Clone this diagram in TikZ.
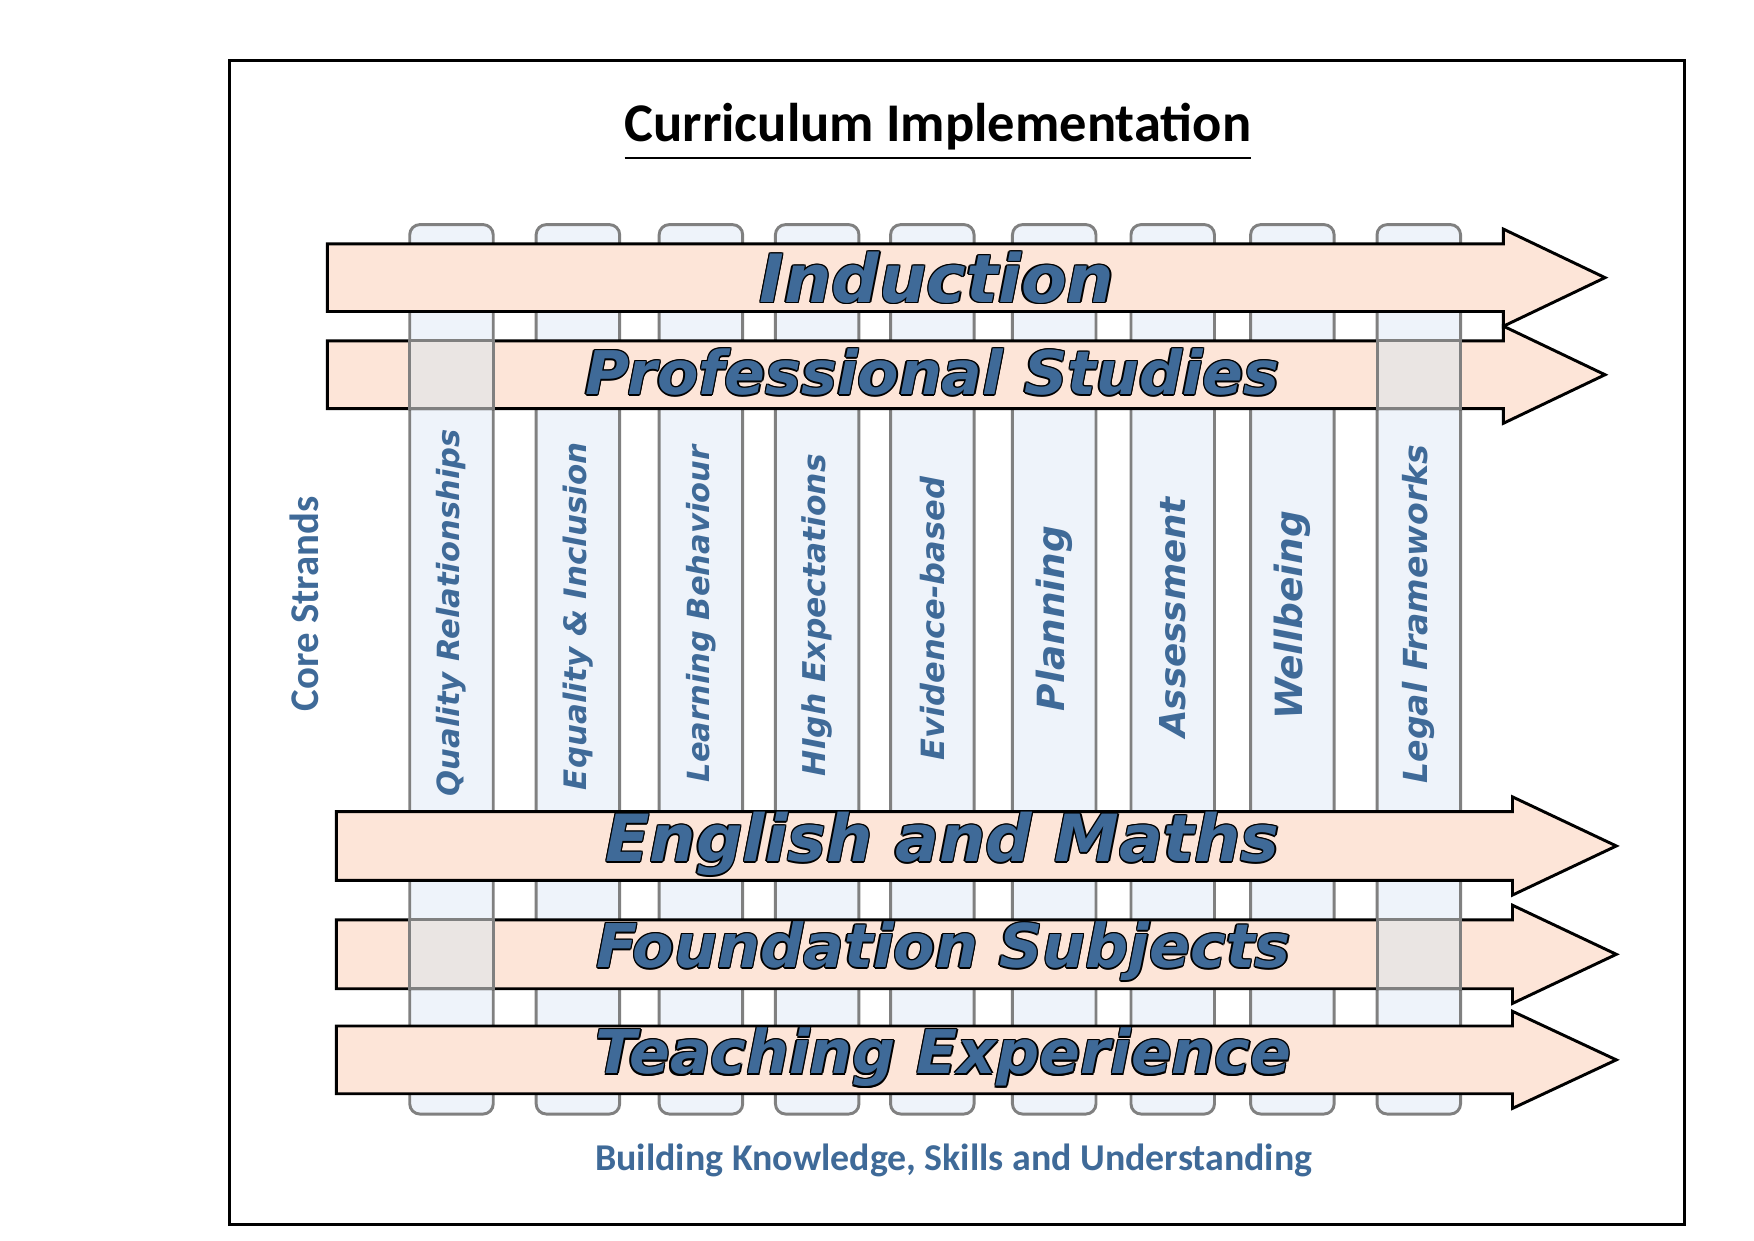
\documentclass[tikz,border=0pt]{standalone}
\usepackage{fontspec}
\setmainfont{Carlito}
\newfontfamily\vfont{DejaVu Sans}
\usepackage{graphicx}
\definecolor{tblue}{HTML}{3F6A98}
\definecolor{arrfill}{HTML}{FDE5D8}
\definecolor{colfill}{HTML}{EEF3FA}
\definecolor{colline}{HTML}{808080}
\definecolor{cellfill}{HTML}{EAE5E3}
\newcommand{\fitw}[2]{\resizebox{#1pt}{!}{#2}}
\newcommand{\otext}[2]{%
 \makebox[0pt]{\color{black}\fitw{#1}{#2}}\hspace*{0pt}}
\begin{document}
\begin{tikzpicture}[x=1pt,y=-1pt,
  colbox/.style={fill=colfill,draw=colline,line width=2.6pt,rounded corners=9pt},
  cellbox/.style={fill=cellfill,draw=colline,line width=2.6pt},
  arr/.style={fill=arrfill,draw=black,line width=2.6pt},
  big/.style={text=tblue,inner sep=0,font=\vfont\bfseries\itshape},
  vert/.style={text=tblue,inner sep=0,rotate=90,font=\vfont\bfseries\itshape},
  plain/.style={text=tblue,inner sep=0}]
\useasboundingbox (0,0) rectangle (1554,1099);
\draw[line width=2.6pt] (203,54) rectangle (1492,1085);
\node[inner sep=0] (title) at (831,117) {\fitw{555}{\bfseries\underline{Curriculum Implementation}}};
% columns
\foreach \l [count=\i] in {363,475,584,687,789,897,1002,1108,1220}
  \draw[colbox] (\l,199) rectangle (\l+74,987);
% arrows
\newcommand{\arrowshape}[5]{% left, right(body end), top, bottom, tip
  \draw[arr] (#1,#3) -- (#2,#3) -- (#2,#3-13) -- (#5,{(#3+#4)/2}) -- (#2,#4+13) -- (#2,#4) -- (#1,#4) -- cycle;}
\arrowshape{290}{1332}{216}{276}{1422}
\arrowshape{290}{1332}{302}{362}{1422}
\arrowshape{298}{1340}{719}{780}{1432}
\arrowshape{298}{1340}{815}{876}{1432}
\arrowshape{298}{1340}{909}{969}{1432}
% overlay cells
\foreach \l in {363,1220}{
  \draw[cellbox] (\l,302) rectangle (\l+74,362);
  \draw[cellbox] (\l,815) rectangle (\l+74,876);}
% arrow labels
\foreach \x/\y/\w/\t/\n in {830/246/314/Induction/ind, 826/330/615/Professional Studies/prof, 835/748/597/English and Maths/eng, 836/843/615/Foundation Subjects/fnd, 836/937/616/Teaching Experience/tch}{
  \foreach \dx/\dy in {-1.2/0,1.2/0,0/-1.2,0/1.2,-0.9/-0.9,0.9/0.9,-0.9/0.9,0.9/-0.9}
    \node[big,text=black] at (\x+\dx,\y+\dy) {\fitw{\w}{\t}};
  \node[big] (\n) at (\x,\y) {\fitw{\w}{\t}};}
% column labels
\foreach \x/\y/\h/\t/\n in {400/543/325/Quality Relationships/c1, 512/546/308/Equality \& Inclusion/c2, 621/544/298/Learning Behaviour/c3, 724/545/285/HIgh Expectations/c4, 826/548/251/Evidence-based/c5, 934/548/164/Planning/c6, 1039/547/213/Assessment/c7, 1145/545/185/Wellbeing/c8, 1257/544/300/Legal Frameworks/c9}
  \node[vert] (\n) at (\x,\y) {\fitw{\h}{\t}};
\node[plain,rotate=90] (core) at (270,535) {\fitw{190}{\bfseries Core Strands}};
\node[plain] (build) at (845,1028) {\fitw{635}{\bfseries Building Knowledge, Skills and Understanding}};
\end{tikzpicture}
\end{document}
